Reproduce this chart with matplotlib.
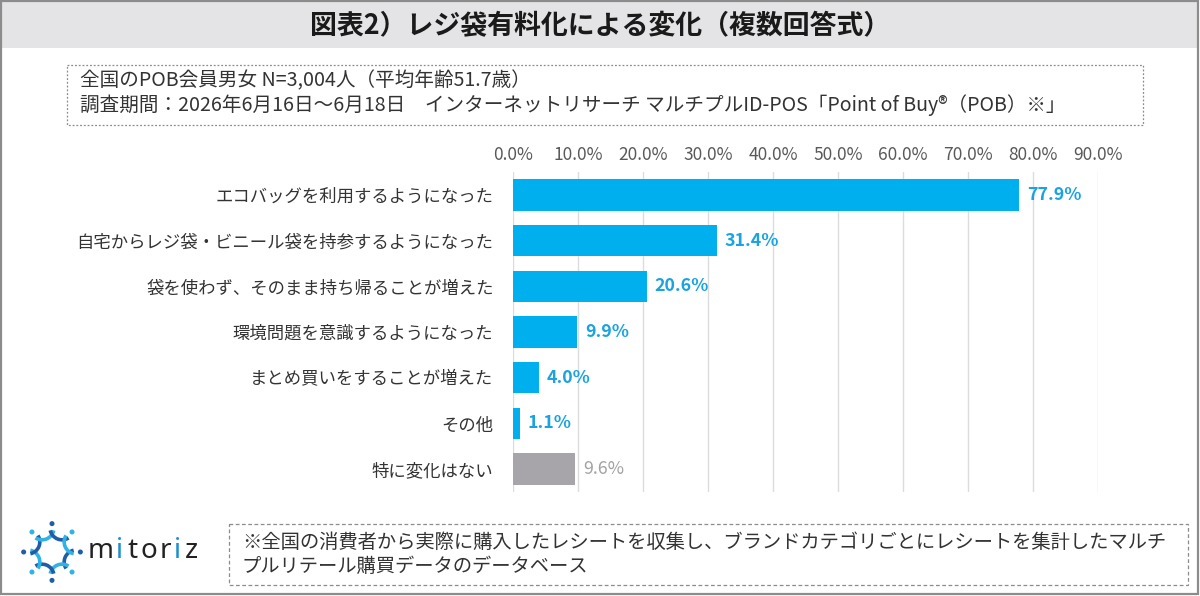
import matplotlib
matplotlib.use('Agg')
import matplotlib.pyplot as plt
from matplotlib import patches
import numpy as np

plt.rcParams['font.family'] = ['Noto Sans CJK JP', 'DejaVu Sans']

# data
categories = ['エコバッグを利用するようになった',
              '自宅からレジ袋・ビニール袋を持参するようになった',
              '袋を使わず、そのまま持ち帰ることが増えた',
              '環境問題を意識するようになった',
              'まとめ買いをすることが増えた',
              'その他',
              '特に変化はない']
values = [77.9, 31.4, 20.6, 9.9, 4.0, 1.1, 9.6]
x_ticks = [0, 10, 20, 30, 40, 50, 60, 70, 80, 90]

title = '図表2）レジ袋有料化による変化（複数回答式）'
info_1 = '全国のPOB会員男女 N=3,004人（平均年齢51.7歳）'
info_2 = '調査期間：2026年6月16日～6月18日　インターネットリサーチ マルチプルID-POS「Point of Buy®（POB）※」'
note_1 = '※全国の消費者から実際に購入したレシートを収集し、ブランドカテゴリごとにレシートを集計したマルチ'
note_2 = 'プルリテール購買データのデータベース'

W, H = 1200, 596
BLUE = '#00b0ee'
GRAY = '#a7a5aa'

fig = plt.figure(figsize=(W / 100, H / 100), dpi=100)

# background layer in pixel coordinates
bg = fig.add_axes([0, 0, 1, 1])
bg.set_xlim(0, W)
bg.set_ylim(H, 0)
bg.axis('off')

bg.add_patch(patches.Rectangle((1, 1), W - 3, 47, facecolor='#e4e3e6', edgecolor='none'))
bg.add_patch(patches.Rectangle((1, 1), W - 3, H - 3, facecolor='none', edgecolor='#8c8c8c', lw=1.6))
bg.text(W / 2, 26, title, ha='center', va='center', fontsize=19.4, fontweight='bold', color='#1a1a1a')

# info box
bg.add_patch(patches.Rectangle((67, 65), 1076, 60, facecolor='none', edgecolor='#8c8c8c',
                               lw=0.9, ls=(0, (1.5, 1.5))))
bg.text(80, 81, info_1, ha='left', va='center', fontsize=14.1, color='#333333')
bg.text(80, 105, info_2, ha='left', va='center', fontsize=14.1, color='#333333')

# footnote box
bg.add_patch(patches.Rectangle((229, 524), 959, 61, facecolor='none', edgecolor='#8c8c8c',
                               lw=0.9, ls=(0, (3, 2))))
bg.text(242, 542, note_1, ha='left', va='center', fontsize=13.9, color='#333333')
bg.text(242, 566, note_2, ha='left', va='center', fontsize=13.9, color='#333333')

# logo
cx, cy, r = 52, 552, 21
for k in range(8):
    ang = np.pi / 8 + k * np.pi / 4
    px, py = cx + r * 1.25 * np.cos(ang), cy + r * 1.25 * np.sin(ang)
    col = '#1f5da6' if k % 2 == 0 else '#2fb3e6'
    bg.add_patch(patches.Arc((px, py), r * 1.15, r * 1.15,
                             theta1=np.degrees(ang) + 180 - 55, theta2=np.degrees(ang) + 180 + 55,
                             color=col, lw=2.6))
    dx, dy = cx + r * 1.35 * np.cos(ang + np.pi / 8), cy + r * 1.35 * np.sin(ang + np.pi / 8)
    bg.add_patch(patches.Circle((dx, dy), 1.8, color='#1f5da6' if k % 2 else '#2fb3e6'))
logo_parts = [('m', '#222222'), ('i', '#1b8fcf'), ('t', '#222222'), ('o', '#222222'),
              ('r', '#222222'), ('i', '#1b8fcf'), ('z', '#222222')]
advance = {'m': 28, 'i': 11, 't': 14, 'o': 19, 'r': 14, 'z': 15}
xpos = 88
for ch, col in logo_parts:
    bg.text(xpos, 551, ch, ha='left', va='center', fontsize=20, color=col,
            family='Noto Sans', fontweight='bold')
    xpos += advance[ch]

# chart
left, right, top, bottom = 513, 1098, 172, 492
ax = fig.add_axes([left / W, 1 - bottom / H, (right - left) / W, (bottom - top) / H])
y = np.arange(len(categories))
colors = [BLUE] * (len(values) - 1) + [GRAY]
ax.barh(y, values, height=0.69, color=colors, zorder=3)
ax.set_ylim(len(categories) - 0.5, -0.5)
ax.set_xlim(0, 90)
ax.set_xticks(x_ticks)
ax.set_xticklabels(['%.1f%%' % v for v in x_ticks], fontsize=12.5, color='#595959')
ax.xaxis.tick_top()
ax.tick_params(axis='x', length=0, pad=6)
ax.set_yticks(y)
ax.set_yticklabels(categories, fontsize=12.5, color='#333333')
ax.tick_params(axis='y', length=0, pad=14)
ax.grid(axis='x', color='#dcdcdc', lw=1, zorder=0)
for s in ax.spines.values():
    s.set_visible(False)

for i, v in enumerate(values):
    last = i == len(values) - 1
    ax.text(v + 1.2, i, '%.1f%%' % v, ha='left', va='center', fontsize=12.8,
            color='#a3a3a3' if last else '#1aa3e0',
            fontweight='normal' if last else 'bold')

fig.savefig('out.png', dpi=100)
